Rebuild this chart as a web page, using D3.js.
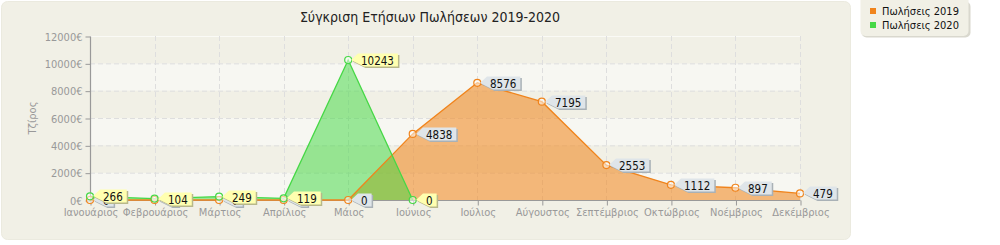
<!DOCTYPE html>
<html>
<head>
<meta charset="utf-8">
<script src="https://cdn.jsdelivr.net/npm/d3@7"></script>
<style>
  body { margin: 0; background: #fff; }
  svg text { font-family: "DejaVu Sans Condensed", "DejaVu Sans", sans-serif; }
</style>
</head>
<body>
<script>
// data
const months = ["Ιανουάριος", "Φεβρουάριος", "Μάρτιος", "Απρίλιος", "Μάιος", "Ιούνιος",
        "Ιούλιος", "Αύγουστος", "Σεπτέμβριος", "Οκτώβριος", "Νοέμβριος", "Δεκέμβριος"]
const sales2019 = [0, 0, 0, 0, 0, 4838, 8576, 7195, 2553, 1112, 897, 479]
const sales2020 = [266, 104, 249, 119, 10243, 0, null, null, null, null, null, null]
const yTicks = [0, 2000, 4000, 6000, 8000, 10000, 12000]
const seriesNames = ["Πωλήσεις 2019", "Πωλήσεις 2020"]

const width = 1000, height = 245
const plotL = 90, plotR = 800, plotT = 36, plotB = 200

const svg = d3.select("body").append("svg")
        .attr("width", width).attr("height", height)

// background panel
svg.append("rect").attr("x", 1.5).attr("y", 1.5).attr("width", 849).attr("height", 238)
        .attr("rx", 6).attr("fill", "#f1f0e6").attr("stroke", "#ebeadf")

var x = d3.scalePoint().domain(months).range([plotL, plotR])
var y = d3.scaleLinear().domain([0, 12000]).range([plotB, plotT])

// alternating bands
const bands = yTicks.slice(0, -1).map((v, i) => [v, yTicks[i + 1]])
svg.append("g").selectAll("rect").data(bands).enter().append("rect")
        .attr("x", plotL).attr("width", plotR - plotL)
        .attr("y", d => y(d[1])).attr("height", d => y(d[0]) - y(d[1]))
        .attr("fill", (d, i) => i % 2 == 0 ? "#f7f7f2" : "#f1f0e6")

// grid
svg.append("g").selectAll("line").data(yTicks.slice(1)).enter().append("line")
        .attr("x1", plotL).attr("x2", plotR)
        .attr("y1", d => y(d) + 0.5).attr("y2", d => y(d) + 0.5)
        .attr("stroke", d => d == 12000 ? "#fafaf6" : "#dedede")
        .attr("stroke-dasharray", d => d == 12000 ? null : "5,3")
svg.append("g").selectAll("line").data(months.slice(1)).enter().append("line")
        .attr("x1", d => Math.round(x(d)) + 0.5).attr("x2", d => Math.round(x(d)) + 0.5)
        .attr("y1", plotT).attr("y2", plotB)
        .attr("stroke", "#dedede").attr("stroke-dasharray", "5,3")

// axes
var yAxis = svg.append("g").attr("transform", "translate(" + (plotL + 0.5) + ",0.5)")
        .call(d3.axisLeft(y).tickValues(yTicks).tickSize(5).tickPadding(3).tickFormat(d => d + "€"))
var xAxis = svg.append("g").attr("transform", "translate(0.5," + (plotB + 0.5) + ")")
        .call(d3.axisBottom(x).tickSize(5).tickPadding(3))
;[yAxis, xAxis].forEach(ax => {
        ax.select(".domain").attr("stroke", "#999").attr("stroke-width", 1.2)
        ax.selectAll(".tick line").attr("stroke", "#999")
        ax.selectAll("text").attr("fill", "#999").style("font-size", "11px")
})
yAxis.select(".domain").attr("d", "M0," + plotT + "V" + plotB)
xAxis.select(".domain").attr("d", "M" + plotL + ",0H" + plotR)

svg.append("text").attr("transform", "translate(36," + ((plotT + plotB) / 2) + ") rotate(-90)")
        .attr("text-anchor", "middle").attr("fill", "#999").style("font-size", "11px")
        .text("Τζίρος")

svg.append("text").attr("x", 430).attr("y", 22).attr("text-anchor", "middle")
        .attr("fill", "#222").style("font-size", "14px")
        .text("Σύγκριση Ετήσιων Πωλήσεων 2019-2020")

// series
const series = [
        { name: seriesNames[0], values: sales2019, line: "#f0841c", fill: "rgba(240,140,40,0.6)", tag: "#dfe5e9", shadow: "#a9b1b6" },
        { name: seriesNames[1], values: sales2020, line: "#46d846", fill: "rgba(60,215,60,0.5)", tag: "#ffffb0", shadow: "#b8b88a" }
]

var area = d3.area().defined(d => d.v != null)
        .x(d => x(d.m)).y0(plotB).y1(d => y(d.v))
var line = d3.line().defined(d => d.v != null)
        .x(d => x(d.m)).y(d => y(d.v))

series.forEach(s => {
        s.points = months.map((m, i) => ({ m: m, v: s.values[i] }))
        svg.append("path").datum(s.points).attr("d", area).attr("fill", s.fill)
})
series.forEach(s => {
        svg.append("path").datum(s.points).attr("d", line)
                .attr("fill", "none").attr("stroke", s.line).attr("stroke-width", 1.3)
})
series.forEach(s => {
        svg.append("g").selectAll("circle").data(s.points.filter(d => d.v != null)).enter()
                .append("circle").attr("cx", d => x(d.m)).attr("cy", d => y(d.v)).attr("r", 3.5)
                .attr("fill", "rgba(255,255,255,0.5)").attr("stroke", s.line).attr("stroke-width", 1.2)
})

// value tags
series.forEach(s => {
        var tags = svg.append("g").selectAll("g").data(s.points.filter(d => d.v != null)).enter()
                .append("g").attr("transform", d => "translate(" + Math.round(x(d.m)) + "," + Math.round(y(d.v)) + ")")
        tags.each(function (d) {
                var g = d3.select(this)
                var sh = g.append("path")
                var bg = g.append("path")
                var t = g.append("text").attr("x", 13).attr("y", 4.5)
                        .attr("fill", "#111").style("font-size", "11.5px").text(d.v)
                var w = t.node().getComputedTextLength() + 7
                var p = "M3,0L10,-6.5H" + (10 + w) + "V6.5H16Z"
                sh.attr("d", p).attr("transform", "translate(1.5,1.5)").attr("fill", s.shadow)
                bg.attr("d", p).attr("fill", s.tag)
        })
})

// legend
var lg = svg.append("g").attr("transform", "translate(860,0)")
lg.append("rect").attr("x", 1.5).attr("y", 1.5).attr("width", 109).attr("height", 36).attr("rx", 5)
        .attr("fill", "#d9d8ce")
lg.append("rect").attr("x", 0.5).attr("y", -5).attr("width", 108).attr("height", 41).attr("rx", 5)
        .attr("fill", "#f1f0e6")
var items = lg.selectAll(".legends").data(series).enter().append("g")
        .attr("transform", (d, i) => "translate(10," + (8 + i * 14) + ")")
items.append("rect").attr("width", 6).attr("height", 6).attr("fill", d => d.line)
items.append("text").attr("x", 12).attr("y", 7).attr("fill", "#111")
        .style("font-size", "11px").text(d => d.name)
</script>
</body>
</html>
